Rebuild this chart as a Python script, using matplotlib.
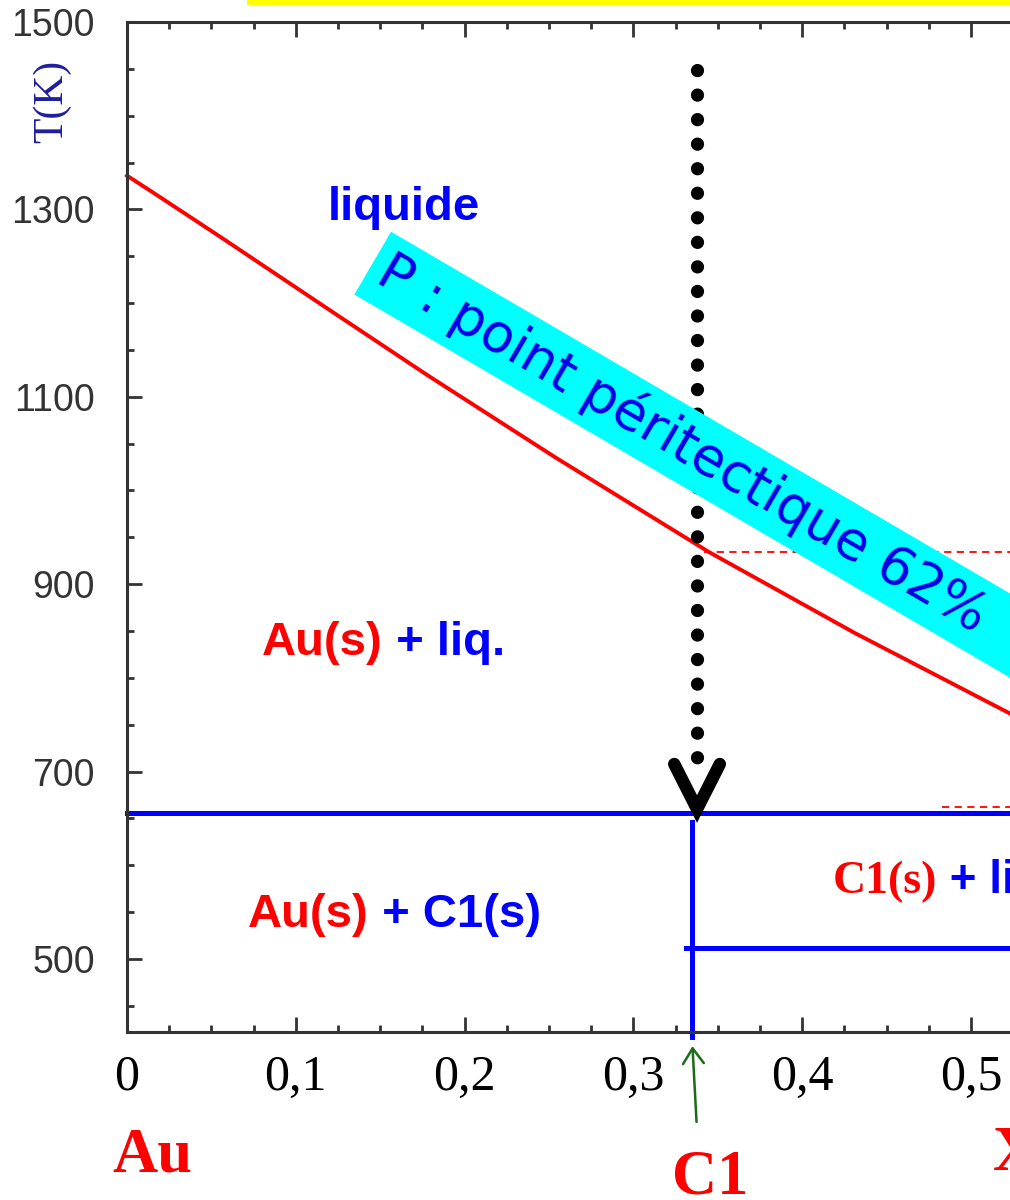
import numpy as np
import matplotlib
matplotlib.use('Agg')
import matplotlib.pyplot as plt
from matplotlib.ticker import MultipleLocator, FixedLocator, FuncFormatter
from matplotlib.patches import Rectangle

# Liquidus curve (Au side)
liq_x = [0.0, 0.0154, 0.055, 0.118, 0.178, 0.254, 0.345, 0.431, 0.523, 0.55]
liq_T = [1336, 1318, 1271, 1195, 1123, 1035, 934, 848, 762, 737]

# Compound C1 and horizontal lines
c1_x = 0.335
T_c1_top = 646
T_c1_bottom = 417
T_eut = 656            # Au(s) + C1(s) / Au(s) + liq. boundary
T_low = 512
x_low_start = 0.331
T_perit = 934          # red dashed (peritectic)
x_perit_start = 0.342
T_dash2 = 662
x_dash2_start = 0.483

# dotted arrow
arrow_x = 0.3377
arrow_T_start = 1449
arrow_T_end = 694
arrow_T_tip = 660

x_ticks = [0, 0.1, 0.2, 0.3, 0.4, 0.5]
x_ticklabels = ['0', '0,1', '0,2', '0,3', '0,4', '0,5']
T_ticks = [500, 700, 900, 1100, 1300, 1500]

W, H = 1010, 1200
fig = plt.figure(figsize=(W / 100, H / 100), dpi=100)


def px(x, y):
    # pixel position -> figure fraction
    return x / W, 1 - y / H


ax = fig.add_axes([127 / W, (H - 1032) / H, 0.55 * 1688 / W, (1032 - 22) / H])
ax.set_xlim(0, 0.55)
ax.set_ylim(422, 1500)

for side in ['left', 'bottom', 'top']:
    ax.spines[side].set_linewidth(2.2)
    ax.spines[side].set_color('#333333')
ax.spines['right'].set_visible(False)

ax.xaxis.set_major_locator(FixedLocator(x_ticks))
ax.xaxis.set_major_formatter(FuncFormatter(lambda v, p: x_ticklabels[p] if p is not None and p < len(x_ticklabels) else ''))
ax.xaxis.set_minor_locator(MultipleLocator(0.025))
ax.yaxis.set_major_locator(FixedLocator(T_ticks))
ax.yaxis.set_minor_locator(MultipleLocator(50))
ax.tick_params(which='both', direction='in', top=True, right=False, color='#333333', width=2)
ax.tick_params(which='major', length=11)
ax.tick_params(which='minor', length=5)
ax.tick_params(axis='x', which='major', pad=16, labelsize=36)
ax.tick_params(axis='y', which='major', pad=23, labelsize=27, labelcolor='#333333')
for lab in ax.get_xticklabels():
    lab.set_family('Liberation Serif')
for lab in ax.get_yticklabels():
    lab.set_family('Liberation Sans')

# phase diagram lines
ax.plot(liq_x, liq_T, color='#ff0000', lw=2.8, clip_on=False, solid_joinstyle='round')
ax.plot([0, 0.55], [T_eut, T_eut], color='#0000ff', lw=3.6, clip_on=False)
ax.plot([c1_x, c1_x], [T_c1_top, T_c1_bottom], color='#0000ff', lw=3.6, clip_on=False)
ax.plot([x_low_start, 0.55], [T_low, T_low], color='#0000ff', lw=3.6)
ax.plot([x_perit_start, 0.55], [T_perit, T_perit], color='#ff0000', lw=1.3, linestyle=(0, (4, 3)))
ax.plot([x_dash2_start, 0.55], [T_dash2, T_dash2], color='#ff0000', lw=1.3, linestyle=(0, (4, 3)))

# dotted arrow going down to the C1 line
ax.plot([arrow_x, arrow_x], [arrow_T_start, arrow_T_end], color='black', lw=9.5,
        linestyle=(0, (0.01, 1.85)), dash_capstyle='round')
hw, hl = 0.0135, 48
ax.plot([arrow_x - hw, arrow_x, arrow_x + hw], [arrow_T_tip + hl, arrow_T_tip, arrow_T_tip + hl],
        color='black', lw=9, solid_capstyle='round', solid_joinstyle='miter')

# green arrow under the axis pointing at C1
ax.annotate('', xy=(c1_x, -0.014), xycoords=('data', 'axes fraction'),
            xytext=(c1_x + 0.0024, -0.089), textcoords=('data', 'axes fraction'),
            arrowprops=dict(arrowstyle='->,head_length=1.1,head_width=0.75', color='#1a6b1a',
                            lw=1.8, mutation_scale=10, shrinkA=0, shrinkB=0),
            annotation_clip=False)


def chain(parts, x, y, size):
    # several coloured pieces written one after the other
    first = fig.text(*px(x, y), parts[0][0], color=parts[0][1], family=parts[0][2],
                     fontsize=size, fontweight='bold', va='bottom', ha='left')
    prev = first
    for s, c, fam in parts[1:]:
        prev = ax.annotate(s, xy=(1, 0), xycoords=prev, va='bottom', ha='left',
                           color=c, family=fam, fontsize=size, fontweight='bold',
                           annotation_clip=False)
    return first


sans = 'Liberation Sans'
serif = 'Liberation Serif'
fig.text(*px(328, 220), 'liquide', color='#0000ff', family=sans, fontsize=34,
         fontweight='bold', va='baseline')
chain([('Au(s)', '#ff0000', sans), (' + liq.', '#0000ff', sans)], 262, 665, 34)
chain([('Au(s)', '#ff0000', sans), (' + C1(s)', '#0000ff', sans)], 248, 937, 34)
chain([('C1(s)', '#ff0000', serif), (' + liq.', '#0000ff', sans)], 833, 903, 33)

fig.text(*px(112, 1172), 'Au', color='#ff0000', family=serif, fontsize=45,
         fontweight='bold', va='baseline')
fig.text(*px(672, 1194), 'C1', color='#ff0000', family=serif, fontsize=45,
         fontweight='bold', va='baseline')
fig.text(*px(993, 1170), 'X', color='#ff0000', family=serif, fontsize=45,
         fontweight='bold', va='baseline')

fig.text(*px(52, 101), 'T(K)', rotation=90, family=serif, fontsize=30,
         color='#1f1f9f', ha='center', va='center')

# rotated cyan label (runs past the right edge like in the source picture)
fig.text(*px(381, 268), 'P : point péritectique 62%      ', rotation=-30.3,
         rotation_mode='anchor', ha='left', va='center', family='DejaVu Sans',
         fontsize=38.5, color='#0000e6',
         bbox=dict(boxstyle='square,pad=0.18', fc='#00ffff', ec='none'))

# yellow strip at the very top
fig.add_artist(Rectangle(px(247, 5), 1, 5 / H, transform=fig.transFigure,
                         color='#ffff00', lw=0))

fig.savefig('out.png', dpi=100)
